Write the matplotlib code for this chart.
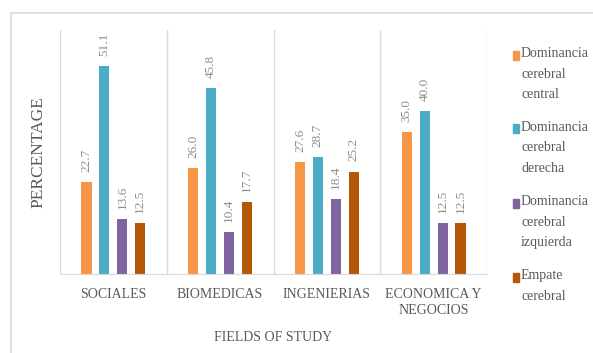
import matplotlib
matplotlib.use("Agg")
from matplotlib import pyplot as plt
from matplotlib.patches import Rectangle
import numpy as np

categories = ["SOCIALES", "BIOMEDICAS", "INGENIERIAS", "ECONOMICA Y\nNEGOCIOS"]
series_names = ["Dominancia\ncerebral\ncentral", "Dominancia\ncerebral\nderecha",
                "Dominancia\ncerebral\nizquierda", "Empate\ncerebral"]
central = [22.7, 26.0, 27.6, 35.0]
derecha = [51.1, 45.8, 28.7, 40.0]
izquierda = [13.6, 10.4, 18.4, 12.5]
empate = [12.5, 17.7, 25.2, 12.5]
colors = ["#F79646", "#4BACC6", "#8064A2", "#B65708"]

grey = "#595959"
plt.rcParams["font.family"] = ["Liberation Serif", "DejaVu Serif"]

W, H = 593, 353
fig = plt.figure(figsize=(5.93, 3.53), dpi=100)
# chart border
fig.patches.append(Rectangle((11 / W, -0.1), 1.2, 1 - 13 / H + 0.1,
                             transform=fig.transFigure, fill=False,
                             edgecolor="#D9D9D9", linewidth=1.2))

ax = fig.add_axes([60 / W, 1 - 274 / H, 427 / W, 244 / H])
x = np.arange(len(categories))
width = 0.095
offsets = [-1.5, -0.5, 0.5, 1.5]
spacing = 0.168
all_series = [central, derecha, izquierda, empate]
for vals, off, col in zip(all_series, offsets, colors):
    bars = ax.bar(x + off * spacing, vals, width, color=col)
    for b, v in zip(bars, vals):
        ax.text(b.get_x() + b.get_width() / 2, v + 2.5, f"{v:.1f}",
                rotation=90, ha="center", va="bottom", color="#8C8C8C",
                fontsize=9.5)

ax.set_xlim(-0.5, 3.5)
ax.set_ylim(0, 60)
ax.set_yticks([])
ax.set_xticks(x)
ax.set_xticklabels(categories, color=grey, fontsize=10, linespacing=1.3)
ax.tick_params(axis="x", length=0, pad=10)
for gx in [-0.5, 0.5, 1.5, 2.5, 3.5]:
    ax.axvline(gx, color="#D9D9D9", linewidth=1, zorder=0)
for s in ["top", "left", "right"]:
    ax.spines[s].set_visible(False)
ax.spines["bottom"].set_color("#D9D9D9")

ax.set_ylabel("PERCENTAGE", color=grey, fontsize=12.5, labelpad=10)
ax.set_xlabel("FIELDS OF STUDY", color=grey, fontsize=10, labelpad=10)

# legend: square next to first line of each wrapped label
for i, (name, col) in enumerate(zip(series_names, colors)):
    yc = 55 + i * 74
    fig.patches.append(Rectangle((513 / W, 1 - (yc + 4.5) / H), 6 / W, 9 / H,
                                 transform=fig.transFigure, color=col))
    fig.text(521 / W, 1 - (yc - 8) / H, name, ha="left", va="top",
             fontsize=10, color=grey, linespacing=1.75,
             family=["Liberation Serif", "DejaVu Serif"])

fig.savefig("out.png", dpi=100)
